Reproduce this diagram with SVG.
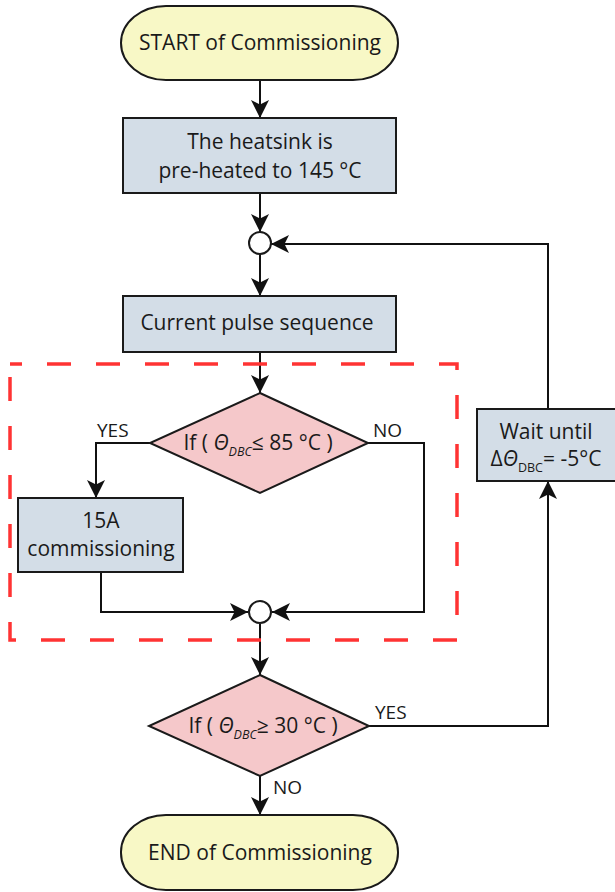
<svg xmlns="http://www.w3.org/2000/svg" width="615" height="892" viewBox="0 0 615 892">
<defs>
<marker id="ah" markerUnits="userSpaceOnUse" markerWidth="18" markerHeight="18" refX="16" refY="8" orient="auto" viewBox="0 0 16 16">
<path d="M0,0 L16,8 L0,16 L4,8 Z" fill="#111"/>
</marker>
<style>
.term{fill:#f8f8c6;stroke:#1a1a1a;stroke-width:2}
.proc{fill:#d3dde7;stroke:#1a1a1a;stroke-width:2}
.dec{fill:#f5c8ca;stroke:#1a1a1a;stroke-width:2}
.junc{fill:#ffffff;stroke:#1a1a1a;stroke-width:2}
.conn{fill:none;stroke:#111;stroke-width:2;marker-end:url(#ah)}
text{font-family:"Open Sans","Noto Sans",sans-serif;font-size:21px;fill:#1a1a1a}
.c{text-anchor:middle}
.lbl{font-size:19px}
.it{font-style:italic}
.sub{font-size:12.5px;font-style:italic}
.subn{font-size:12.5px}
</style>
</defs>

<g id="connectors">
<path class="conn" d="M260,80 V118"/>
<path class="conn" d="M260,193 V232"/>
<path class="conn" d="M260,254 V296"/>
<path class="conn" d="M260,352 V393"/>
<path class="conn" d="M150,443 H96 V498"/>
<path class="conn" d="M368,443 H424 V612 H272"/>
<path class="conn" d="M101,572 V612 H248"/>
<path class="conn" d="M260,624 V675"/>
<path class="conn" d="M369,726 H548 V481"/>
<path class="conn" d="M548,409 V244 H271"/>
<path class="conn" d="M260,776 V815"/>
</g>

<g id="start">
<rect class="term" x="121" y="6" width="277" height="74" rx="45" ry="37"/>
<text class="c" x="260" y="50">START of Commissioning</text>
</g>

<g id="preheat">
<rect class="proc" x="123" y="118" width="273" height="75"/>
<text class="c" x="260" y="149">The heatsink is</text>
<text class="c" x="260" y="178">pre-heated to 145 °C</text>
</g>

<g id="junction1">
<circle class="junc" cx="260" cy="243" r="11"/>
</g>

<g id="pulse">
<rect class="proc" x="123" y="296" width="273" height="56"/>
<text class="c" x="257" y="330">Current pulse sequence</text>
</g>

<g id="decision1">
<polygon class="dec" points="260,393 368,443 260,493 150,443"/>
<text class="c" x="258" y="450">If ( <tspan class="it">Θ</tspan><tspan class="sub" dy="6">DBC</tspan><tspan dy="-6">≤ 85 °C )</tspan></text>
<text class="lbl" x="97" y="437">YES</text>
<text class="lbl" x="373" y="437">NO</text>
</g>

<g id="commission15A">
<rect class="proc" x="18" y="498" width="165" height="74"/>
<text class="c" x="101" y="528">15A</text>
<text class="c" x="101" y="556">commissioning</text>
</g>

<g id="junction2">
<circle class="junc" cx="260" cy="612" r="11"/>
</g>

<g id="decision2">
<polygon class="dec" points="260,675 369,726 260,776 149,726"/>
<text class="c" x="263" y="733">If ( <tspan class="it">Θ</tspan><tspan class="sub" dy="6">DBC</tspan><tspan dy="-6">≥ 30 °C )</tspan></text>
<text class="lbl" x="375" y="719">YES</text>
<text class="lbl" x="273" y="794">NO</text>
</g>

<g id="wait">
<rect class="proc" x="477" y="409" width="140" height="72"/>
<text class="c" x="546" y="439">Wait until</text>
<text class="c" x="546" y="466">Δ<tspan class="it">Θ</tspan><tspan class="subn" dy="6">DBC</tspan><tspan dy="-6">= -5°C</tspan></text>
</g>

<g id="end">
<rect class="term" x="121" y="815" width="277" height="75" rx="45" ry="37"/>
<text class="c" x="260" y="860">END of Commissioning</text>
</g>

<g id="region">
<rect x="10" y="364" width="447" height="276" fill="none" stroke="#ff3333" stroke-width="3.5" stroke-dasharray="24 25" stroke-dashoffset="12"/>
</g>
</svg>
